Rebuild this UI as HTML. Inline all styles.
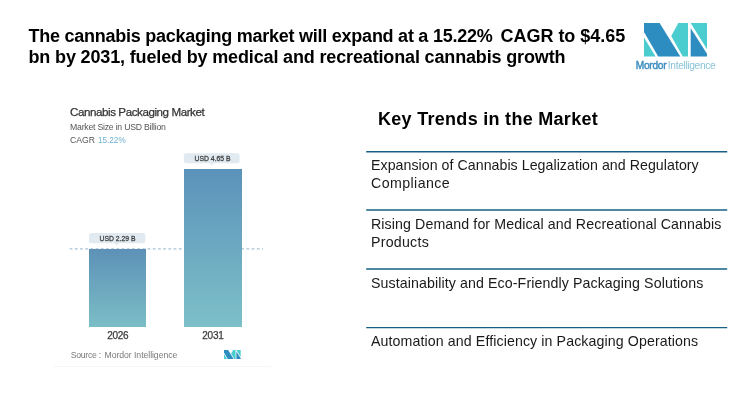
<!DOCTYPE html>
<html>
<head>
<meta charset="utf-8">
<style>
html,body{margin:0;padding:0;background:#fff;}
body{width:750px;height:418px;position:relative;overflow:hidden;font-family:"Liberation Sans",Arial,sans-serif;}
.a{position:absolute;white-space:nowrap;}
.title{left:28.5px;top:25.9px;font-weight:bold;font-size:18px;line-height:21px;color:#000;letter-spacing:-0.15px;}
.kt{left:378px;top:109.3px;font-weight:bold;font-size:18px;line-height:21px;color:#000;letter-spacing:0.29px;}
.item{left:371px;font-size:14.2px;line-height:17.7px;color:#1a1a1a;letter-spacing:0.1px;}
.ct{left:70px;color:#333;}
.bar{position:absolute;}
.lbl{position:absolute;font-size:7.8px;color:#444;-webkit-text-stroke:0.3px #444;text-align:center;}
.lbl span{display:inline-block;transform:scaleX(0.875);}
.yr{position:absolute;font-size:10px;color:#3a3a3a;text-align:center;width:40px;letter-spacing:-0.3px;-webkit-text-stroke:0.25px #3a3a3a;}
</style>
</head>
<body>
<div class="a title"><span style="letter-spacing:-0.25px">The cannabis packaging market will expand at a 15.22%</span> <span style="letter-spacing:-0.04px;margin-left:3.3px">CAGR to $4.65</span><br>bn by 2031, fueled by medical and recreational cannabis growth</div>

<!-- logo -->
<svg class="a" style="left:644px;top:23.35px" width="63.1" height="33.6" viewBox="0 0 63.1 33.6">
  <polygon points="0,0 15.6,0 36.3,33.6 14.2,33.6 0,9.05" fill="#2e8dc0"/>
  <polygon points="0,14.5 0,33.6 11.6,33.6" fill="#4bcdd0"/>
  <polygon points="34.4,0 44,0 44,33.6 38.7,33.6 27.2,12.95" fill="#4bcdd0"/>
  <polygon points="46.7,0 63.1,0 63.1,26.5" fill="#4bcdd0"/>
  <polygon points="46.7,5.3 63.1,31 63.1,33.6 46.7,33.6" fill="#2e8dc0"/>
</svg>
<div class="a" style="left:635.8px;top:59.6px;font-size:10.2px;line-height:11px;color:#3a8cbf;-webkit-text-stroke:0.4px #3a8cbf;letter-spacing:-0.3px">Mordor</div>
<div class="a" style="left:667.8px;top:59.6px;font-size:10.2px;line-height:11px;color:#88c3d7;letter-spacing:-0.33px">Intelligence</div>

<!-- chart -->
<div class="a ct" style="top:105.1px;font-size:11.6px;line-height:13px;letter-spacing:-0.43px;color:#333;-webkit-text-stroke:0.25px #333">Cannabis Packaging Market</div>
<div class="a ct" style="top:121.9px;font-size:8.7px;line-height:10px;color:#555;letter-spacing:-0.22px">Market Size in USD Billion</div>
<div class="a" style="left:70px;top:134.7px;font-size:9.3px;line-height:11px;color:#555;transform:scaleX(0.932);transform-origin:0 0">CAGR</div>
<div class="a" style="left:97.6px;top:134.7px;font-size:9.3px;line-height:11px;color:#6db0cc;transform:scaleX(0.876);transform-origin:0 0">15.22%</div>

<svg class="a" style="left:0;top:0" width="300" height="300"><g fill="#e0eaf0"><rect x="183.8" y="153.3" width="55.8" height="10" rx="2.5"/><polygon points="209.4,163.2 214,163.2 211.7,165.6"/><rect x="89" y="233" width="56.3" height="10.2" rx="2.5"/><polygon points="114.6,243.1 119.2,243.1 116.9,245.6"/></g></svg>
<div class="lbl" style="left:184.7px;top:153.2px;width:55.8px;height:10px;line-height:11px"><span>USD 4.65 B</span></div>
<div class="lbl" style="left:89.2px;top:232.9px;width:56.3px;height:10.2px;line-height:11px"><span>USD 2.29 B</span></div>
<svg class="a" style="left:69px;top:248px" width="194" height="2"><line x1="0.6" y1="0.9" x2="194" y2="0.9" stroke="#a6c3d6" stroke-width="1.1" stroke-dasharray="2.8 2.4"/></svg>
<div class="bar" style="left:184px;top:168.6px;width:57.5px;height:158.3px;background:linear-gradient(#5b92ba,#7dc0c8)"></div>
<div class="bar" style="left:89px;top:248.7px;width:56.7px;height:78.2px;background:linear-gradient(#5d91b7,#7bbec6)"></div>

<div class="yr" style="left:97.8px;top:330px;line-height:12px">2026</div>
<div class="yr" style="left:192.9px;top:330px;line-height:12px">2031</div>

<div class="a" style="left:70.8px;top:350.4px;font-size:8.7px;line-height:11px;color:#7a7a7a;letter-spacing:-0.3px">Source :</div>
<div class="a" style="left:104.5px;top:350.4px;font-size:8.7px;line-height:11px;color:#7a7a7a;letter-spacing:-0.06px">Mordor Intelligence</div>
<svg class="a" style="left:224.2px;top:349.9px" width="16.7" height="9" viewBox="0 0 63.1 33.6" preserveAspectRatio="none">
  <polygon points="0,0 15.6,0 36.3,33.6 14.2,33.6 0,9.05" fill="#2e8dc0"/>
  <polygon points="0,14.5 0,33.6 11.6,33.6" fill="#4bcdd0"/>
  <polygon points="34.4,0 44,0 44,33.6 38.7,33.6 27.2,12.95" fill="#4bcdd0"/>
  <polygon points="46.7,0 63.1,0 63.1,26.5" fill="#4bcdd0"/>
  <polygon points="46.7,5.3 63.1,31 63.1,33.6 46.7,33.6" fill="#2e8dc0"/>
</svg>
<div class="a" style="left:53.7px;top:365.5px;width:217px;height:1px;background:#f4f6f8"></div>

<!-- key trends -->
<div class="a kt">Key Trends in the Market</div>
<svg class="a" style="left:0;top:0" width="750" height="418"><g stroke="#156082" stroke-width="1.45" shape-rendering="geometricPrecision"><line x1="366.2" y1="151.65" x2="727.2" y2="151.65"/><line x1="366.2" y1="210" x2="727.2" y2="210"/><line x1="366.2" y1="269.05" x2="727.2" y2="269.05"/><line x1="366.2" y1="327.6" x2="727.2" y2="327.6"/></g></svg>
<div class="a item" style="top:157.3px"><span style="letter-spacing:0.04px">Expansion of Cannabis Legalization and Regulatory</span><br><span style="letter-spacing:0.42px">Compliance</span></div>
<div class="a item" style="top:216.3px">Rising Demand for Medical and Recreational Cannabis<br><span style="letter-spacing:0.25px">Products</span></div>
<div class="a item" style="top:274.5px">Sustainability and Eco-Friendly Packaging Solutions</div>
<div class="a item" style="top:332.9px">Automation and Efficiency in Packaging Operations</div>
</body>
</html>
